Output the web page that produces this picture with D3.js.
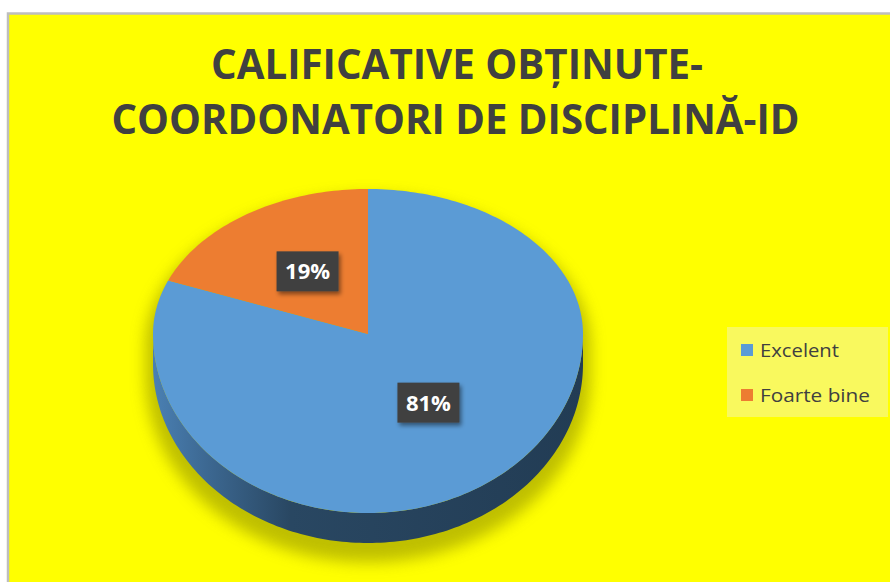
<!DOCTYPE html>
<html>
<head>
<meta charset="utf-8">
<script src="https://cdn.jsdelivr.net/npm/d3@7"></script>
<style>
  html, body { margin: 0; padding: 0; background: #fff; }
  svg { display: block; }
</style>
</head>
<body>
<svg id="chart" width="890" height="582"></svg>
<script>
const titleLines = ["CALIFICATIVE OBȚINUTE-", "COORDONATORI DE DISCIPLINĂ-ID"];
const categories = ["Excelent", "Foarte bine"];
const values     = [81, 19];
const colors     = ["#5b9bd5", "#ed7d31"];

const W = 890, H = 582;
const svg = d3.select("#chart");
const defs = svg.append("defs");

// ── background + frame ─────────────────────────────────────────
svg.append("rect")
    .attr("x", 8).attr("y", 13.5).attr("width", 900).attr("height", 600)
    .attr("fill", "#ffff00").attr("stroke", "#bebebe").attr("stroke-width", 2.5);

// ── title ──────────────────────────────────────────────────────
const titleSpec = [{ cx: 457, y: 79, w: 492 }, { cx: 455.5, y: 134, w: 688 }];
titleLines.forEach((t, i) => {
    svg.append("text")
        .attr("x", titleSpec[i].cx).attr("y", titleSpec[i].y)
        .attr("text-anchor", "middle")
        .attr("font-family", "'Liberation Sans Narrow', 'Open Sans', sans-serif")
        .attr("font-weight", "700").attr("font-size", 41)
        .attr("fill", "#404040")
        .attr("textLength", titleSpec[i].w).attr("lengthAdjust", "spacingAndGlyphs")
        .text(t);
});

// ── 3D pie geometry (back half flattened a bit for perspective) ─
const cx = 368, cy = 334, rx = 215, ryBack = 145, ryFront = 179, depth = 30;
const pt = (a, dy = 0) => {
    const c = Math.cos(a);
    return [cx + rx * Math.sin(a), cy - (c > 0 ? ryBack : ryFront) * c + dy];
};
const arcPts = (a0, a1, dy = 0) => {
    const n = Math.max(2, Math.ceil((a1 - a0) / 0.02));
    return d3.range(n + 1).map(k => pt(a0 + (a1 - a0) * k / n, dy));
};
const line = d3.line();

const pie = d3.pie().sort(null).value(d => d)(values);

// soft shadow below the pie
const shF = defs.append("filter").attr("id", "pieShadow")
    .attr("x", "-20%").attr("y", "-20%").attr("width", "140%").attr("height", "140%");
shF.append("feGaussianBlur").attr("stdDeviation", 7);

const outline = arcPts(-Math.PI / 2, Math.PI / 2)
    .concat(arcPts(Math.PI / 2, 3 * Math.PI / 2, depth));
svg.append("path")
    .attr("d", line(outline) + "Z")
    .attr("transform", `translate(${cx},${cy + 12}) scale(1.035) translate(${-cx},${-cy})`)
    .attr("fill", "#a4a400").attr("opacity", 0.7)
    .attr("filter", "url(#pieShadow)");

// side gradient
const sideGrad = defs.append("linearGradient").attr("id", "sideGrad")
    .attr("gradientUnits", "userSpaceOnUse")
    .attr("x1", cx - rx).attr("x2", cx + rx).attr("y1", 0).attr("y2", 0);
[[0, "#4a80b3"], [0.12, "#3d6993"], [0.32, "#294762"], [1, "#223c54"]].forEach(([o, c]) =>
    sideGrad.append("stop").attr("offset", o).attr("stop-color", c));

const sideGradO = defs.append("linearGradient").attr("id", "sideGradO")
    .attr("gradientUnits", "userSpaceOnUse")
    .attr("x1", cx - rx).attr("x2", cx + rx).attr("y1", 0).attr("y2", 0);
[[0, "#c06328"], [1, "#8a4516"]].forEach(([o, c]) =>
    sideGradO.append("stop").attr("offset", o).attr("stop-color", c));

// side walls: visible front half [PI/2, 3PI/2]
pie.forEach((s, i) => {
    const a0 = Math.max(s.startAngle, Math.PI / 2);
    const a1 = Math.min(s.endAngle, 3 * Math.PI / 2);
    if (a1 <= a0) return;
    const pts = arcPts(a0, a1).concat(arcPts(a0, a1, depth).reverse());
    svg.append("path")
        .attr("d", line(pts) + "Z")
        .attr("fill", i === 0 ? "url(#sideGrad)" : "url(#sideGradO)");
});

// top faces
const vertex = [cx, cy];
pie.forEach((s, i) => {
    const pts = [vertex].concat(arcPts(s.startAngle, s.endAngle));
    svg.append("path")
        .attr("d", line(pts) + "Z")
        .attr("fill", colors[i]);
});

// ── data labels ────────────────────────────────────────────────
const lblF = defs.append("filter").attr("id", "lblShadow")
    .attr("x", "-30%").attr("y", "-30%").attr("width", "160%").attr("height", "170%");
lblF.append("feDropShadow").attr("dx", 2).attr("dy", 3).attr("stdDeviation", 2)
    .attr("flood-color", "#000").attr("flood-opacity", 0.45);

const total = d3.sum(values);
const frac = 0.5, ryMid = (ryBack + ryFront) / 2;
pie.forEach((s, i) => {
    const mid = (s.startAngle + s.endAngle) / 2;
    const lx = cx + frac * rx * Math.sin(mid);
    const ly = cy + 3 - 0.49 * ryMid * Math.cos(mid);
    const bw = 62, bh = 40;
    svg.append("rect")
        .attr("x", lx - bw / 2).attr("y", ly - bh / 2)
        .attr("width", bw).attr("height", bh)
        .attr("fill", "#404040").attr("filter", "url(#lblShadow)");
    svg.append("text")
        .attr("x", lx).attr("y", ly + 8)
        .attr("text-anchor", "middle")
        .attr("font-family", "'Open Sans', sans-serif")
        .attr("font-weight", "700").attr("font-size", 22)
        .attr("fill", "#fff")
        .text(Math.round(s.data / total * 100) + "%");
});

// ── legend ─────────────────────────────────────────────────────
svg.append("rect")
    .attr("x", 727).attr("y", 327).attr("width", 161).attr("height", 90)
    .attr("fill", "#f9f95e");
const legY = d3.scalePoint().domain(categories).range([350, 395]);
const legW = [79, 110];
categories.forEach((c, i) => {
    svg.append("rect")
        .attr("x", 741).attr("y", legY(c) - 6).attr("width", 12).attr("height", 12)
        .attr("fill", colors[i]);
    svg.append("text")
        .attr("x", 760).attr("y", legY(c) + 7)
        .attr("font-family", "'Open Sans', sans-serif")
        .attr("font-size", 19).attr("fill", "#404040")
        .attr("textLength", legW[i]).attr("lengthAdjust", "spacingAndGlyphs")
        .text(c);
});
</script>
</body>
</html>
